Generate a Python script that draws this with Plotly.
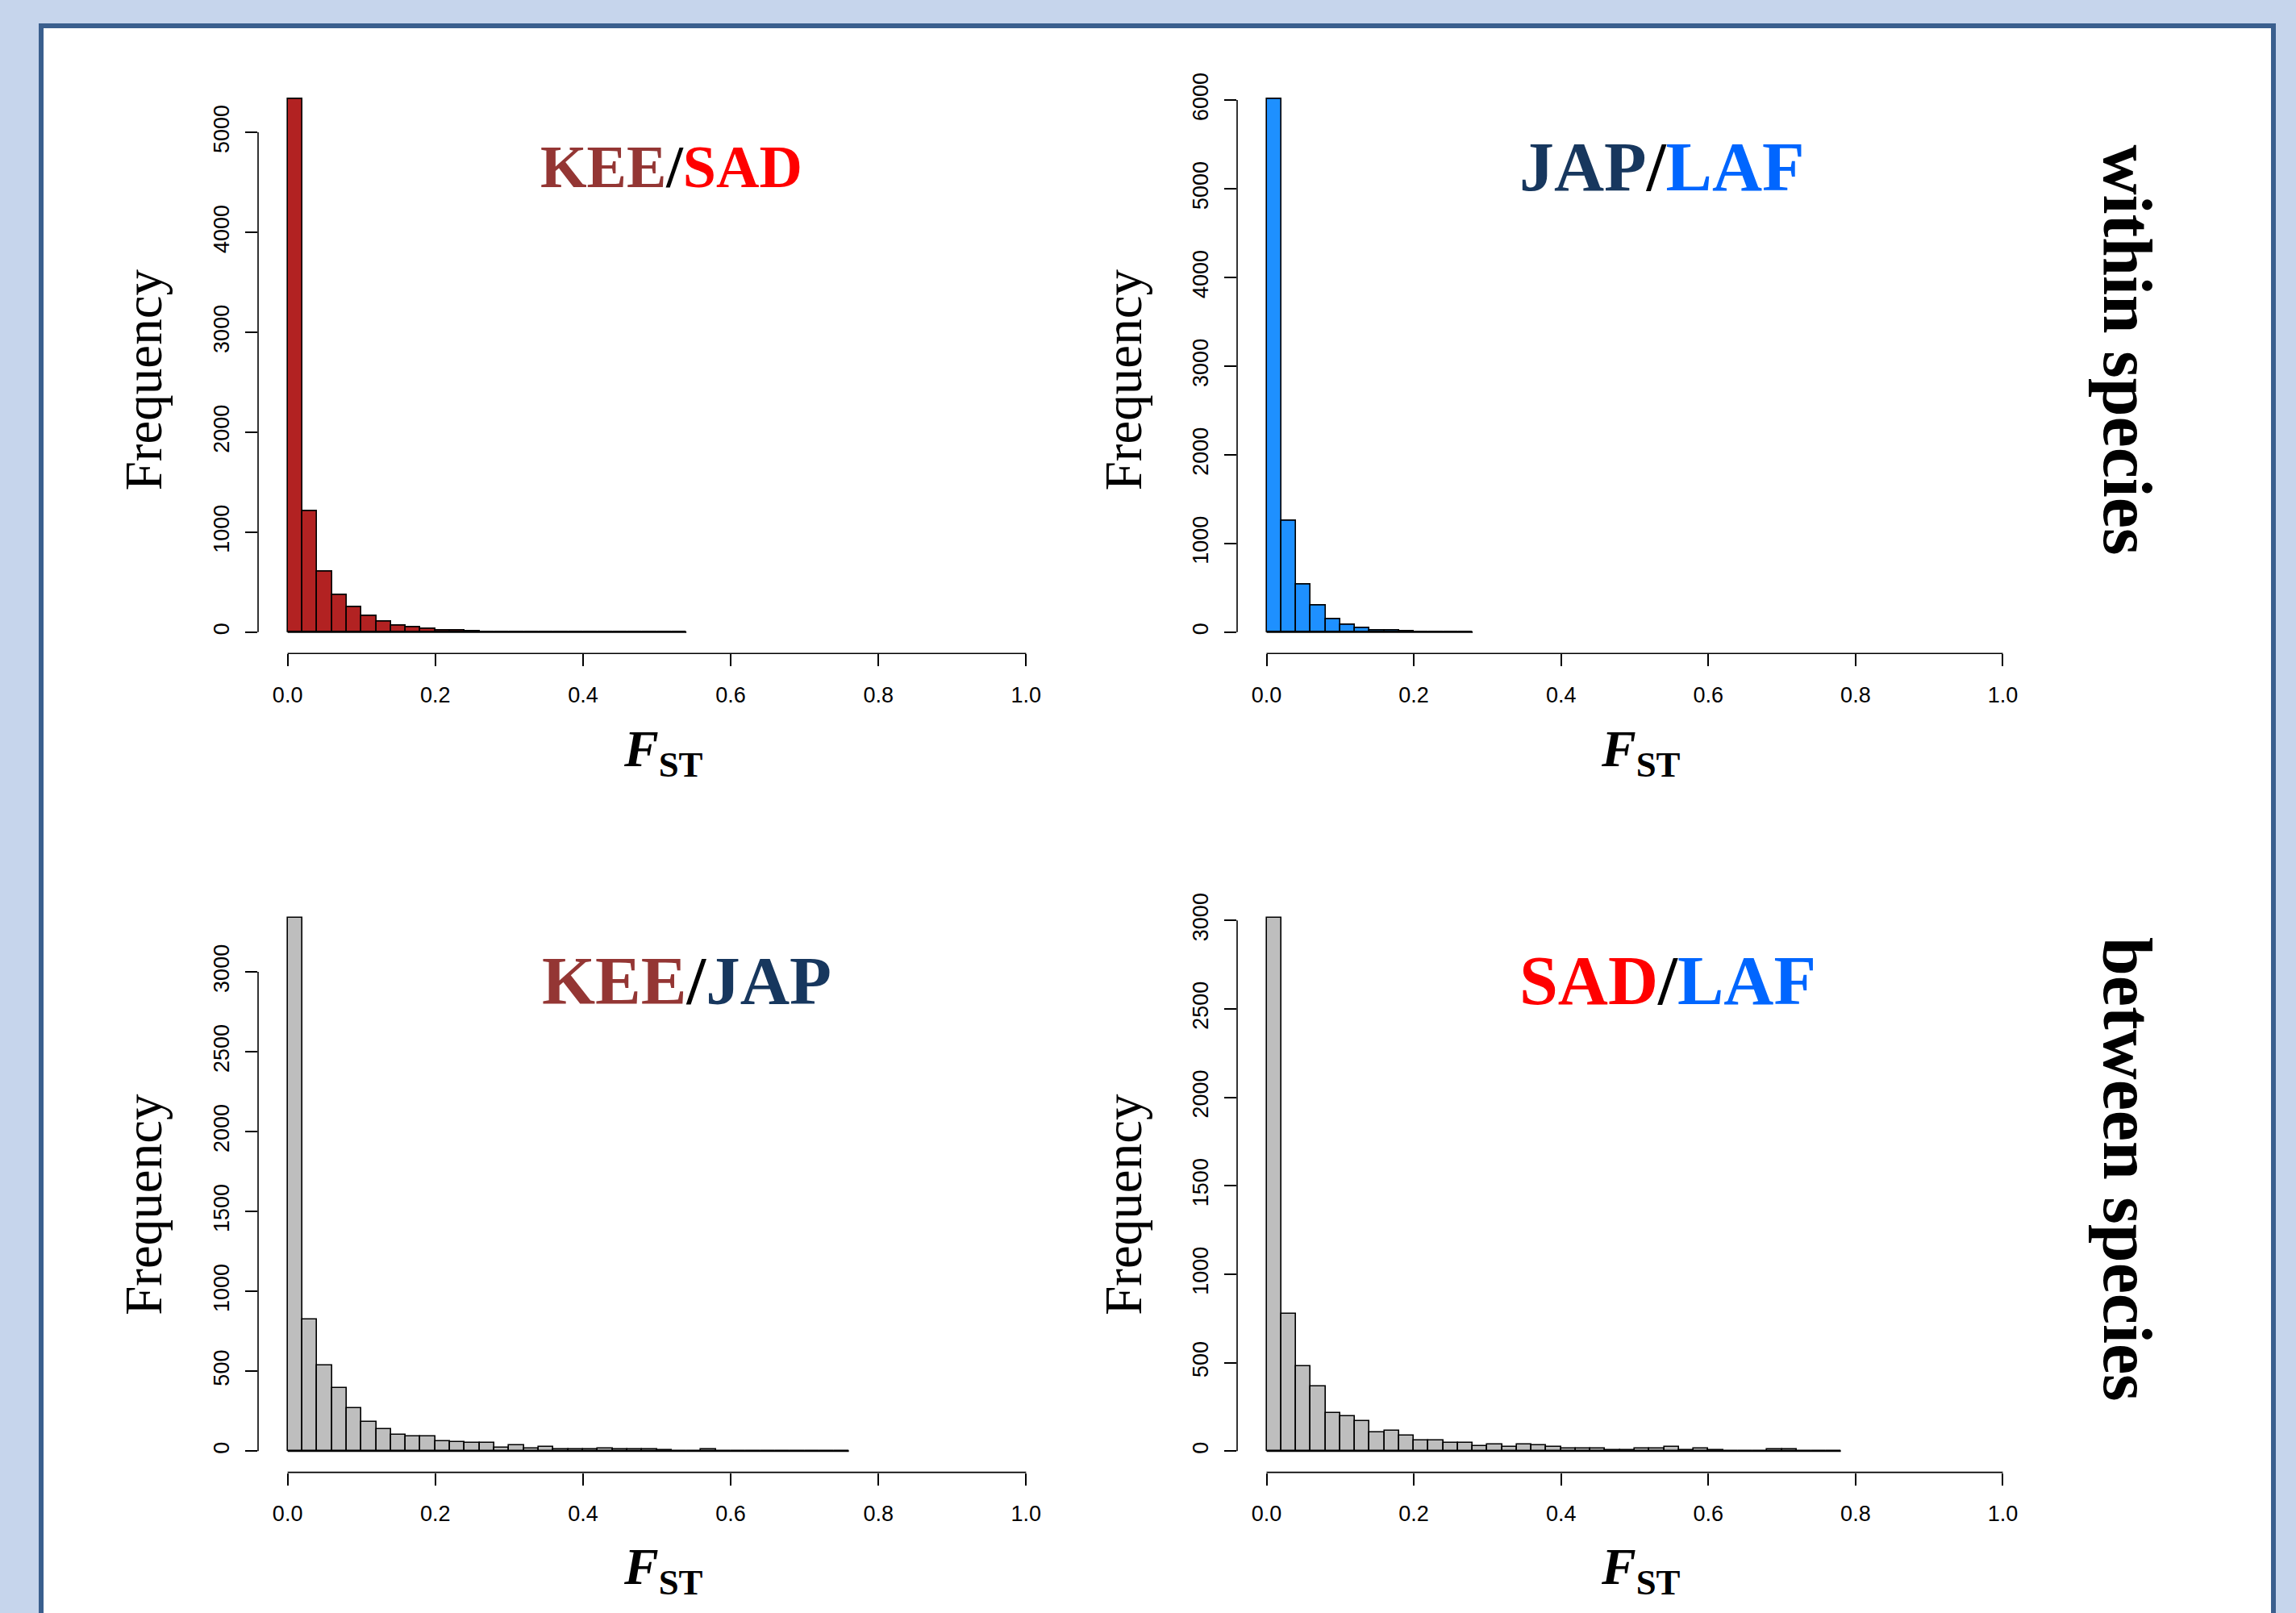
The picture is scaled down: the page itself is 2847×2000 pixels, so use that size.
import plotly.graph_objects as go

W, H = 2847, 2000

# ---- data (counts per 0.02-wide FST bin, starting at 0) ----
bin_width = 0.02
kee_sad = [5330, 1210, 605, 370, 252, 160, 105, 64, 50, 35, 16, 13, 5, 3, 2, 2,
           1, 1, 1, 0, 1, 0, 0, 0, 0, 0, 1]
jap_laf = [6009, 1253, 536, 300, 149, 87, 45, 18, 17, 14, 3, 2, 1, 1]
kee_jap = [3335, 823, 535, 394, 270, 180, 139, 99, 90, 90, 62, 55, 49, 49, 23, 34,
           13, 25, 12, 12, 12, 14, 8, 8, 8, 6, 0, 0, 8, 0, 1, 0, 0, 0, 1, 0, 0, 1]
sad_laf = [3012, 774, 478, 366, 215, 195, 171, 106, 114, 89, 59, 58, 45, 45, 29, 36,
           21, 36, 30, 21, 12, 12, 14, 6, 6, 12, 12, 23, 6, 14, 6, 0, 0, 0, 8, 8,
           0, 0, 1]

x_ticks = [0.0, 0.2, 0.4, 0.6, 0.8, 1.0]
x_ticktext = ["0.0", "0.2", "0.4", "0.6", "0.8", "1.0"]
y_ticks_kee_sad = [0, 1000, 2000, 3000, 4000, 5000]
y_ticks_jap_laf = [0, 1000, 2000, 3000, 4000, 5000, 6000]
y_ticks_kee_jap = [0, 500, 1000, 1500, 2000, 2500, 3000]
y_ticks_sad_laf = [0, 500, 1000, 1500, 2000, 2500, 3000]

# title parts: (text, colour)
titles = [
    [("KEE", "#943634"), ("/", "#000000"), ("SAD", "#FF0000")],
    [("JAP", "#17375E"), ("/", "#000000"), ("LAF", "#0066FF")],
    [("KEE", "#943634"), ("/", "#000000"), ("JAP", "#17375E")],
    [("SAD", "#FF0000"), ("/", "#000000"), ("LAF", "#0066FF")],
]
bar_colors = ["#B22222", "#1E90FF", "#BEBEBE", "#BEBEBE"]
row_labels = ["within species", "between species"]

panels = [
    (kee_sad, y_ticks_kee_sad),
    (jap_laf, y_ticks_jap_laf),
    (kee_jap, y_ticks_kee_jap),
    (sad_laf, y_ticks_sad_laf),
]

# ---- layout geometry in pixels ----
col_x = [(320, 1309), (1534, 2520)]
row_y = [(90, 806), (1109, 1825)]
title_pos = [(833, 201, 74), (2061, 201, 86), (851, 1213, 85), (2068, 1213, 86)]


def px(x):
    return x / W


def py(y):
    return 1 - y / H


fig = go.Figure()
layout = dict(
    width=W, height=H,
    margin=dict(l=0, r=0, t=0, b=0),
    paper_bgcolor="#C6D5EC",
    plot_bgcolor="rgba(0,0,0,0)",
    showlegend=False,
    shapes=[], annotations=[],
)

# white inner panel with dark blue border
layout["shapes"].append(dict(
    type="rect", xref="paper", yref="paper",
    x0=px(51), x1=px(2819), y0=-0.05, y1=py(25),
    fillcolor="white", line=dict(color="#3A5F8E", width=6), layer="below"))

tickfont = dict(family="Liberation Sans, Arial, sans-serif", size=27, color="black")
serif = "Liberation Serif, Times New Roman, serif"

for i, (counts, yt) in enumerate(panels):
    r, c = divmod(i, 2)
    k = "" if i == 0 else str(i + 1)
    xa, ya = "x" + k, "y" + k
    centers = [bin_width * (j + 0.5) for j in range(len(counts))]
    m = max(counts)
    fig.add_trace(go.Bar(
        x=centers, y=counts, width=bin_width, xaxis=xa, yaxis=ya,
        marker=dict(color=bar_colors[i], line=dict(color="black", width=1.6)),
        hoverinfo="skip"))
    # baseline over full break range (zero-count bins)
    fig.add_trace(go.Scatter(
        x=[0, bin_width * len(counts)], y=[0, 0], mode="lines",
        line=dict(color="black", width=2), xaxis=xa, yaxis=ya, hoverinfo="skip"))

    x0, x1 = col_x[c]
    y0, y1 = row_y[r]
    layout["xaxis" + k] = dict(
        domain=[px(x0), px(x1)], range=[-0.04, 1.04], anchor=ya,
        tickvals=x_ticks, ticktext=x_ticktext, ticks="outside", ticklen=15,
        tickwidth=1.6, tickcolor="black", showline=False, showgrid=False,
        zeroline=False, tickfont=tickfont, ticklabelstandoff=12, fixedrange=True)
    layout["yaxis" + k] = dict(
        domain=[py(y1), py(y0)], range=[-0.04 * m, 1.04 * m], anchor=xa,
        tickvals=yt, ticktext=[str(v) for v in yt], tickangle=-90,
        ticks="outside", ticklen=15, tickwidth=1.6, tickcolor="black",
        showline=False, showgrid=False, zeroline=False, tickfont=tickfont,
        ticklabelstandoff=9, fixedrange=True)
    # axis lines spanning first to last tick (R style)
    layout["shapes"].append(dict(
        type="line", xref=xa, yref=ya + " domain", x0=x_ticks[0], x1=x_ticks[-1],
        y0=0, y1=0, line=dict(color="black", width=1.6)))
    layout["shapes"].append(dict(
        type="line", xref=xa + " domain", yref=ya, x0=0, x1=0,
        y0=yt[0], y1=yt[-1], line=dict(color="black", width=1.6)))

    # panel title
    title_txt = "".join(
        '<span style="color:%s">%s</span>' % (col, t) for t, col in titles[i])
    tx, ty, ts = title_pos[i]
    layout["annotations"].append(dict(
        text="<b>" + title_txt + "</b>", xref="paper", yref="paper",
        x=px(tx), y=py(ty), xanchor="center", yanchor="middle", showarrow=False,
        font=dict(family=serif, size=ts)))
    # y axis title
    fx = [178, 1393][c]
    fy = [466, 1492][r]
    layout["annotations"].append(dict(
        text="Frequency", xref="paper", yref="paper", x=px(fx), y=py(fy),
        xanchor="center", yanchor="middle", showarrow=False, textangle=-90,
        font=dict(family=serif, size=65, color="black")))
    # x axis title
    gx = [822, 2034][c]
    gy = [929, 1947][r]
    layout["annotations"].append(dict(
        text="<b><i>F</i><sub>ST</sub></b>", xref="paper", yref="paper",
        x=px(gx), y=py(gy), xanchor="center", yanchor="middle", showarrow=False,
        font=dict(family=serif, size=64, color="black")))

# row labels at right
for r, lab in enumerate(row_labels):
    ly = [428, 1448][r]
    layout["annotations"].append(dict(
        text="<b>" + lab + "</b>", xref="paper", yref="paper",
        x=px(2638), y=py(ly), xanchor="center", yanchor="middle",
        showarrow=False, textangle=90,
        font=dict(family=serif, size=86, color="black")))

layout["bargap"] = 0
fig.update_layout(**layout)
fig.write_html(
    "out.html",
    config={"displayModeBar": False},
    post_script="document.body.style.margin='0';document.body.style.overflow='hidden';")
